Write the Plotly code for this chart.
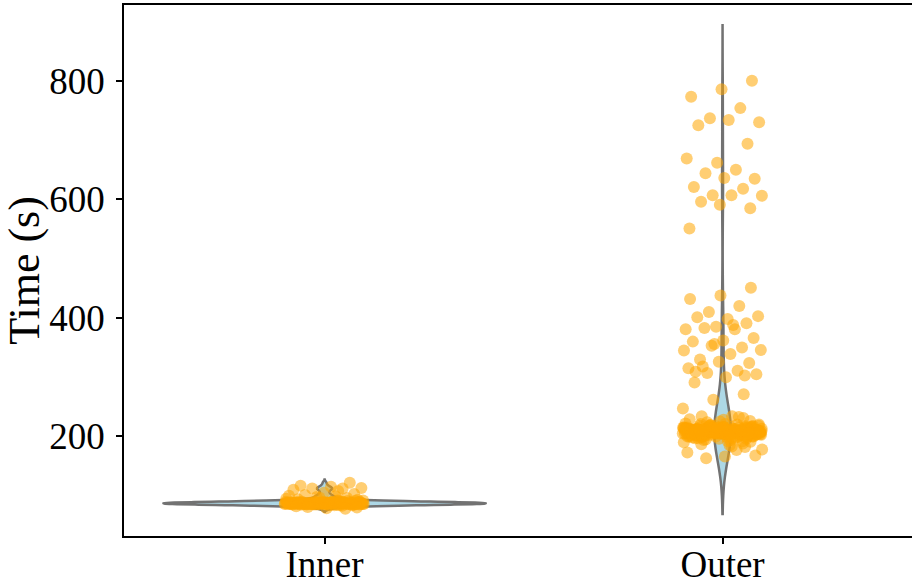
import numpy as np
import plotly.graph_objects as go

categories = ["Inner", "Outer"]

inner_times = [
    86, 87, 88, 85, 89, 87, 86, 88, 90, 84, 87, 86, 89, 88, 85, 87, 91, 86, 88, 87,
    85, 86, 89, 90, 87, 88, 86, 84, 87, 89, 88, 86, 87, 85, 90, 88, 87, 86, 89, 87,
    83, 86, 88, 87, 85, 89, 86, 88, 92, 87, 86, 85, 88, 87, 90, 86, 89, 87, 84, 88,
    87, 86, 88, 85, 87, 89, 91, 86, 88, 87, 86, 85, 87, 88, 90, 86, 87, 89, 88, 86,
    85, 87, 88, 86, 93, 87, 89, 86, 88, 87, 84, 86, 88, 87, 85, 90, 87, 86, 89, 88,
    87, 88, 86, 91, 85, 87, 89, 86, 88, 87, 92, 86, 85, 88, 87, 89, 90, 86, 87, 88,
    94, 96, 98, 95, 99, 101, 103, 105, 110, 112, 112, 113, 115, 117, 122, 97, 100,
    108, 81, 80, 79, 82, 78,
]

outer_times = [
    # dense band
    205, 210, 198, 215, 207, 212, 201, 219, 208, 204, 213, 196, 210, 222, 206, 209,
    200, 216, 211, 203, 214, 207, 193, 218, 209, 205, 212, 199, 224, 208, 211, 202,
    215, 206, 190, 213, 209, 217, 204, 210, 207, 203, 220, 211, 197, 208, 214, 206,
    212, 201, 209, 216, 205, 188, 210, 213, 207, 204, 226, 209, 202, 215, 208, 211,
    199, 206, 212, 218, 205, 209, 194, 213, 207, 210, 203, 216, 208, 185, 211, 206,
    214, 200, 209, 212, 205, 221, 207, 203, 210, 215, 198, 208, 213, 206, 211, 204,
    217, 209, 192, 212, 207, 205, 214, 210, 201, 208, 228, 206, 213, 209, 203, 216,
    211, 205, 196, 210, 207, 214, 204, 209, 212, 182, 208, 215, 206, 211, 200, 213,
    207, 210, 219, 205, 209, 202, 212, 206, 215, 208, 195, 211, 204, 210, 231, 207,
    178, 183, 187, 191, 225, 229, 233,
    206, 211, 203, 209, 214, 200, 208, 212, 205, 217, 210, 198, 207, 213, 204, 209,
    215, 202, 211, 206, 220, 208, 203, 212, 197, 210, 205, 214, 209, 201, 216, 207,
    212, 204, 209, 218, 206, 211, 199, 208, 213, 205, 210, 203, 215, 207, 192, 212,
    209, 204, 221, 206, 211, 200, 208, 214, 205, 210, 202, 217, 207, 212, 196, 209,
    206, 213, 204, 210, 219, 208, 201, 211, 205, 215,
    # low tail
    173, 177, 163, 168, 166,
    # lower spread
    291, 271, 262, 247, 234, 234,
    # middle group
    451, 438, 432, 420, 410, 403, 398, 401, 391, 385, 381, 381, 383, 366, 362, 360,
    350, 353, 346, 339, 330, 324, 326, 315, 311, 307, 305, 300, 309, 303, 356, 345,
    388, 318,
    # upper group
    800, 786, 773, 754, 737, 730, 734, 725, 694, 662, 669, 650, 644, 635, 636, 621,
    618, 607, 606, 607, 596, 585, 591, 551,
]

y_ticks = [200, 400, 600, 800]

FONT = "Liberation Serif"
LINE_GRAY = "#727272"

series = [inner_times, outer_times]
violin_width = [0.81, 0.042]
bandwidth = [2.6, 47]

fig = go.Figure()

for i, vals in enumerate(series):
    fig.add_trace(go.Violin(
        y=vals, x0=i, name=categories[i],
        width=violin_width[i], bandwidth=bandwidth[i],
        scalemode="width", spanmode="soft",
        fillcolor="#add8e6", opacity=1,
        line=dict(color=LINE_GRAY, width=2.5),
        points=False,
        box=dict(visible=False),
        meanline=dict(visible=False),
        hoverinfo="skip", showlegend=False,
    ))

golden = 0.6180339887498949
for i, vals in enumerate(series):
    n = len(vals)
    offs = ((np.arange(n) * golden) % 1.0 - 0.5) * 0.2
    fig.add_trace(go.Scatter(
        x=i + offs, y=vals, mode="markers",
        marker=dict(size=12, color="rgba(255,165,0,0.55)", line=dict(width=0)),
        showlegend=False, hoverinfo="skip",
    ))

fig.update_layout(
    width=912, height=584,
    margin=dict(l=124, r=0, t=5, b=48),
    plot_bgcolor="white", paper_bgcolor="white",
    font=dict(family=FONT, size=37, color="black"),
    violinmode="overlay", showlegend=False,
)
fig.update_xaxes(
    range=[-0.504, 1.476], tickvals=[0, 1], ticktext=categories,
    showline=True, mirror=True, linecolor="black", linewidth=1.5,
    ticks="outside", ticklen=6, tickwidth=1.5, tickcolor="black",
    ticklabelstandoff=-11,
    showgrid=False, zeroline=False, automargin=False,
)
fig.update_yaxes(
    range=[32, 928], tickvals=y_ticks, title_text="Time (s)",
    showline=True, linecolor="black", linewidth=1.5,
    ticks="outside", ticklen=6, tickwidth=1.5, tickcolor="black",
    ticklabelstandoff=4,
    showgrid=False, zeroline=False, automargin=False,
)

fig.write_html(
    "out.html",
    config={"displayModeBar": False},
    post_script="document.body.style.margin='0';document.body.style.padding='0';",
)
